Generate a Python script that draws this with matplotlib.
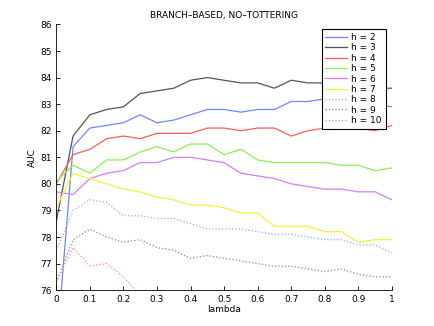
import numpy as np
import matplotlib
matplotlib.use("Agg")
import matplotlib.pyplot as plt

lam = [0, 0.05, 0.1, 0.15, 0.2, 0.25, 0.3, 0.35, 0.4, 0.45, 0.5,
       0.55, 0.6, 0.65, 0.7, 0.75, 0.8, 0.85, 0.9, 0.95, 1.0]

h2 = [73.7, 81.4, 82.1, 82.2, 82.3, 82.6, 82.3, 82.4, 82.6, 82.8, 82.8,
      82.7, 82.8, 82.8, 83.1, 83.1, 83.2, 83.2, 83.1, 83.0, 82.9]
h3 = [78.6, 81.8, 82.6, 82.8, 82.9, 83.4, 83.5, 83.6, 83.9, 84.0, 83.9,
      83.8, 83.8, 83.6, 83.9, 83.8, 83.8, 83.8, 83.7, 83.6, 83.6]
h4 = [80.0, 81.1, 81.3, 81.7, 81.8, 81.7, 81.9, 81.9, 81.9, 82.1, 82.1,
      82.0, 82.1, 82.1, 81.8, 82.0, 82.1, 82.2, 82.1, 82.0, 82.2]
h5 = [80.1, 80.7, 80.4, 80.9, 80.9, 81.2, 81.4, 81.2, 81.5, 81.5, 81.1,
      81.3, 80.9, 80.8, 80.8, 80.8, 80.8, 80.7, 80.7, 80.5, 80.6]
h6 = [79.7, 79.6, 80.2, 80.4, 80.5, 80.8, 80.8, 81.0, 81.0, 80.9, 80.8,
      80.4, 80.3, 80.2, 80.0, 79.9, 79.8, 79.8, 79.7, 79.7, 79.4]
h7 = [79.1, 80.4, 80.2, 80.0, 79.8, 79.7, 79.5, 79.4, 79.2, 79.2, 79.1,
      78.9, 78.9, 78.4, 78.4, 78.4, 78.2, 78.2, 77.8, 77.9, 77.9]
h8 = [77.5, 79.0, 79.4, 79.3, 78.8, 78.8, 78.7, 78.7, 78.5, 78.3, 78.3,
      78.3, 78.2, 78.1, 78.1, 78.0, 77.9, 77.9, 77.7, 77.7, 77.4]
h9 = [76.3, 77.9, 78.3, 78.0, 77.8, 77.9, 77.6, 77.5, 77.2, 77.3, 77.2,
      77.1, 77.0, 76.9, 76.9, 76.8, 76.7, 76.8, 76.6, 76.5, 76.5]
h10 = [76.3, 77.6, 76.9, 77.0, 76.5, 75.8, 75.6, 75.5, 75.3, 75.2, 75.1,
       75.0, 74.9, 74.8, 74.8, 74.7, 74.6, 74.6, 74.5, 74.4, 74.4]

labels = ["h = 2", "h = 3", "h = 4", "h = 5", "h = 6", "h = 7", "h = 8", "h = 9", "h = 10"]
series = [h2, h3, h4, h5, h6, h7, h8, h9, h10]
colors = ["#6f86ff", "#555555", "#ff5a5a", "#8cf050", "#d77cff", "#f2f23a",
          "#9aa8ff", "#888888", "#ff8a8a"]
styles = ["-", "-", "-", "-", "-", "-", ":", ":", ":"]

plt.rcParams['font.family'] = ['DejaVu Sans']
fig = plt.figure(figsize=(4.34, 3.26), dpi=100)
ax = fig.add_axes([0.1297, 0.110, 0.7733, 0.815])
for s, lab, c, ls in zip(series, labels, colors, styles):
    ax.plot(lam, s, color=c, linestyle=ls, linewidth=0.9, label=lab)

ax.set_xlim(0, 1)
ax.set_ylim(76, 86)
ax.set_xticks(np.arange(0, 1.01, 0.1))
ax.set_xticklabels(["0", "0.1", "0.2", "0.3", "0.4", "0.5", "0.6", "0.7", "0.8", "0.9", "1"])
ax.set_yticks(range(76, 87))
ax.spines['top'].set_visible(False)
ax.spines['right'].set_visible(False)
ax.tick_params(labelsize=6.5, direction='in', length=3, width=0.6)
for sp in ax.spines.values():
    sp.set_linewidth(0.6)
ax.set_xlabel("lambda", fontsize=6.5, labelpad=1)
ax.set_ylabel("AUC", fontsize=6.5, labelpad=2)
ax.set_title("BRANCH\u2013BASED, NO\u2013TOTTERING", fontsize=6.5, pad=5)
leg = ax.legend(loc='upper right', bbox_to_anchor=(0.981, 0.981), fontsize=6.5,
                fancybox=False, framealpha=1, edgecolor='black',
                handlelength=2.4, labelspacing=0.15, borderpad=0.4,
                handletextpad=0.5, borderaxespad=0)
leg.get_frame().set_linewidth(0.8)
fig.savefig("out.png", dpi=100)
